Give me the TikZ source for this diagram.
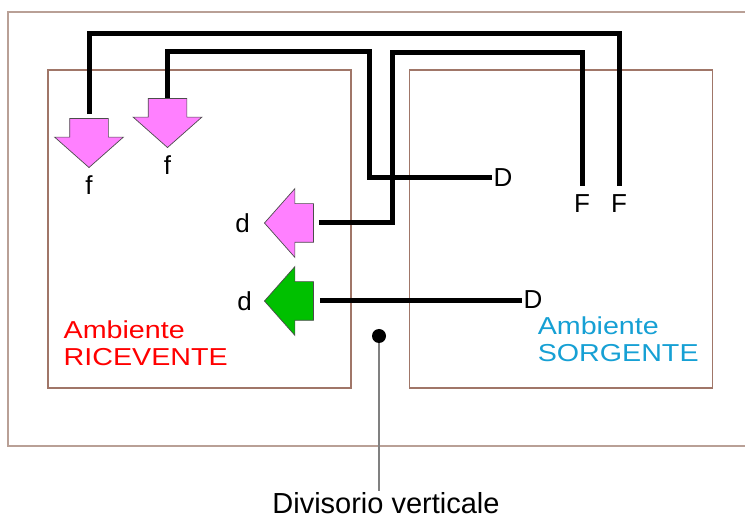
\documentclass[tikz,border=0pt]{standalone}
\usepackage{fontspec}
\setmainfont{Liberation Sans}
\newfontfamily\widesans[FakeStretch=1.17]{Liberation Sans}
\usetikzlibrary{positioning, shapes.arrows, calc}

\definecolor{wallgray}{RGB}{185,160,150}
\definecolor{roombrown}{RGB}{160,118,104}
\definecolor{flankpink}{RGB}{255,128,255}
\definecolor{directgreen}{RGB}{0,192,0}
\definecolor{srcblue}{RGB}{22,160,212}

\begin{document}
\begin{tikzpicture}[x=1pt, y=-1pt, line join=miter,
		room/.style={rectangle, draw=roombrown, line width=1.1pt, minimum width=303pt, minimum height=318pt, inner sep=0pt},
		fat/.style={single arrow, draw=black!70, line width=0.7pt, inner xsep=0pt, inner ysep=19pt,
			minimum width=68pt, minimum height=49pt, single arrow head extend=15pt, single arrow tip angle=97, anchor=tip},
		wire/.style={line width=5pt, black},
		lbl/.style={inner sep=1pt, font=\fontsize{26}{30}\selectfont},
		roomlbl/.style={inner sep=0pt, align=left, font=\widesans\fontsize{24.5}{27}\selectfont}]
		
		\useasboundingbox (0,0) rectangle (745,518);
		
		% wall and the two rooms
		\draw[wallgray, line width=1.3pt] (745,12) -| (8,446) -- (745,446);
		\node[room] (RecvRoom) at (199.5,229) {};
		\node[room, right=57pt of RecvRoom] (SrcRoom) {};
		
		\node[roomlbl, text=red, anchor=south west, xshift=16pt, yshift=23pt] (RecvLbl) at (RecvRoom.south west) {Ambiente\\RICEVENTE};
		\node[roomlbl, text=srcblue, anchor=south west, xshift=129pt, yshift=27pt] (SrcLbl) at (SrcRoom.south west) {Ambiente\\SORGENTE};
		
		% arrows into the receiving room
		\node[fat, fill=flankpink, rotate=-90] (ArrF1) at (89,168) {};
		\node[fat, fill=flankpink, rotate=-90] (ArrF2) at (167.5,148) {};
		\node[fat, fill=flankpink, rotate=180] (ArrD1) at (264,223) {};
		\node[fat, fill=directgreen, rotate=180] (ArrD2) at (264,301) {};
		
		\node[lbl, below=6pt of ArrF1.tip] (LblF1) {f};
		\node[lbl, below=6pt of ArrF2.tip] (LblF2) {f};
		\node[lbl, left=13pt of ArrD1.tip] (LblD1) {d};
		\node[lbl, left=11pt of ArrD2.tip] (LblD2) {d};
		
		% labels in the source room
		\node[lbl] (SrcD1) at (503,178) {D};
		\node[lbl] (SrcD2) at (533,300) {D};
		\node[lbl] (SrcF1) at (582,204) {F};
		\node[lbl] (SrcF2) at (619,204) {F};
		
		% transmission paths
		\draw[wire, shorten <=4pt] (ArrF1.tail) -- (ArrF1.tail |- 0,34) -| ([yshift=8pt]SrcF2.north);
		\draw[wire] (ArrF2.tail) |- (369,52) |- (SrcD1.west);
		\draw[wire, shorten <=5pt] (ArrD1.tail) -| (392,53) -| ([yshift=8pt]SrcF1.north);
		\draw[wire, shorten <=6pt] (ArrD2.tail) -- (ArrD2.tail -| SrcD2.west);
		
		% partition
		\node[circle, fill=black, minimum size=14pt, inner sep=0pt] (WallDot) at (379,336) {};
		\node[inner sep=1pt, font=\fontsize{29}{34}\selectfont] (WallLbl) at (386,503) {Divisorio verticale};
		\draw[gray, line width=1.5pt] (WallDot) -- (WallDot |- WallLbl.north);
		
	\end{tikzpicture}
\end{document}
